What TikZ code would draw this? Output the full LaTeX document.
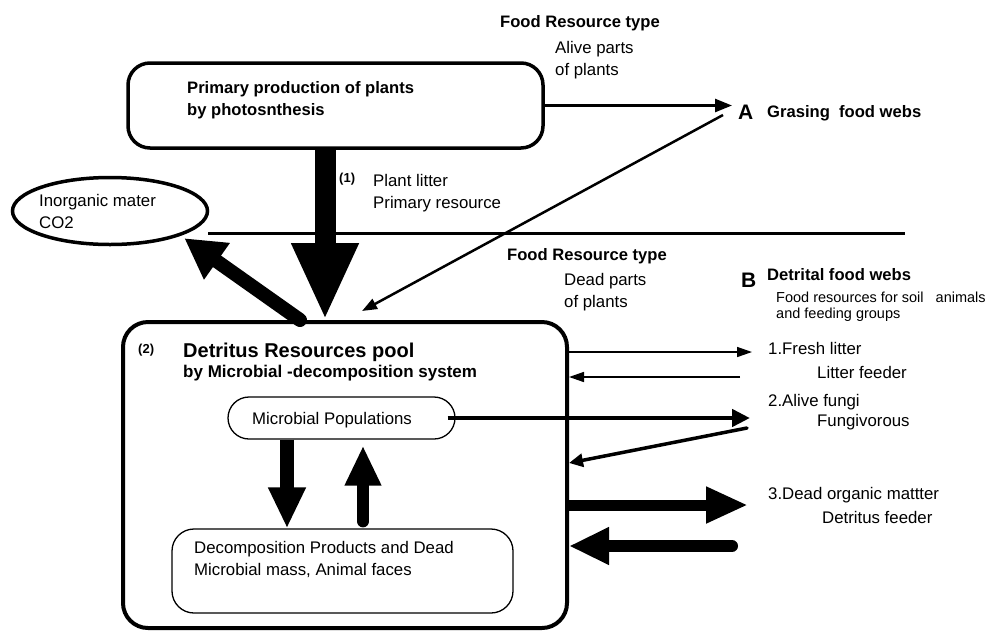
\documentclass[tikz,border=0pt]{standalone}
\usepackage{fontspec}
\setmainfont{Liberation Sans}
\usetikzlibrary{arrows.meta,calc,positioning,shapes.geometric}

\tikzset{
  lbl/.style={anchor=base west,inner sep=0pt,align=left,font=\fontsize{16.8}{22}\selectfont},
  blbl/.style={lbl,font=\fontsize{16.6}{22}\selectfont\bfseries},
  sml/.style={lbl,font=\fontsize{14.5}{16}\selectfont},
  tag/.style={lbl,font=\fontsize{13}{15}\selectfont\bfseries},
  letter/.style={lbl,font=\fontsize{21}{22}\selectfont\bfseries},
  bigbox/.style={draw,line width=3.5pt,rounded corners=22pt,inner sep=0pt},
  thinbox/.style={draw,line width=1.3pt,inner sep=0pt},
  fat/.style n args={3}{line width=#1,-{Triangle[length=#2,width=#3]}},
}

\begin{document}
\begin{tikzpicture}[x=1pt,y=-1pt]
  \useasboundingbox (0,0) rectangle (987,630);

  % plants and the grazing side (multi-line labels sit on their last line)
  \node[bigbox,minimum width=415pt,minimum height=85pt] (prim) at (335.5,105.5) {};
  \node[blbl] (primtxt) at (187,115) {Primary production of plants\\by photosnthesis};
  \node[blbl] (frtop) at (500,27) {Food Resource type};
  \node[lbl] (alive) at (555,75) {Alive parts\\of plants};
  \node[letter] (lA) at (738,119) {A};
  \node[blbl] (graz) at (767,117) {Grasing\ \ food webs};
  \node[tag] (one) at (339,182) {(1)};
  \node[lbl] (litter) at (373,208) {Plant litter\\Primary resource};
  \node[draw,ellipse,line width=3.5pt,minimum width=195pt,minimum height=67pt,inner sep=0pt] (inorg) at (110,211) {};
  \node[lbl] (co2) at (39,228) {Inorganic mater\\CO2};

  \coordinate (lineL) at (208,233);
  \coordinate (lineR) at (905,233);
  \draw[line width=3pt] (lineL) -- (lineR);

  % detrital side
  \node[blbl] (frbot) at (507,260) {Food Resource type};
  \node[lbl] (dead) at (564,307) {Dead parts\\of plants};
  \node[letter] (lB) at (741,287) {B};
  \node[blbl] (detr) at (767,280) {Detrital food webs};
  \node[sml] (soil) at (776,318) {Food resources for soil\ \ \ animals\\and feeding groups};

  \node[bigbox,line width=4pt,rounded corners=25pt,minimum width=444pt,minimum height=306pt] (pool) at (345,475) {};
  \node[tag] (two) at (138,353) {(2)};
  \node[lbl,font=\fontsize{20}{22}\selectfont\bfseries] (pooltxt) at (183,357) {Detritus Resources pool};
  \node[lbl,font=\fontsize{17}{20}\selectfont\bfseries] (pooltxt2) at (183,377) {by Microbial -decomposition system};

  \node[thinbox,rounded corners=21pt,minimum width=227pt,minimum height=42pt] (micro) at (341.5,418) {};
  \node[lbl] (microtxt) at (252,424) {Microbial Populations};
  \node[thinbox,rounded corners=22pt,minimum width=341pt,minimum height=84pt] (decomp) at (342.5,571) {};
  \node[lbl] (decomptxt) at (194,575) {Decomposition Products and Dead\\Microbial mass, Animal faces};

  \node[lbl] (fresh) at (768,354) {1.Fresh litter};
  \node[lbl] (lfeed) at (817,378) {Litter feeder};
  \node[lbl] (fungi) at (768,406) {2.Alive fungi};
  \node[lbl] (fvor) at (817,426) {Fungivorous};
  \node[lbl] (dom) at (768,499) {3.Dead organic mattter};
  \node[lbl] (dfeed) at (822,523) {Detritus feeder};

  % arrows
  \coordinate (toA) at (732,105.5);
  \coordinate (fromA) at (723,115);
  \draw[line width=2.5pt,-{Triangle[length=17pt,width=13pt]}] (prim.east) -- (toA);
  \draw[line width=2.5pt,-{Triangle[length=15pt,width=11pt]}] (fromA) -- ([xshift=17pt,yshift=9pt]pool.north);
  \draw[fat={21pt}{77pt}{62pt}] ([xshift=-10.5pt]prim.south) -- ([xshift=-20pt]pool.north);
  \draw[fat={14pt}{40pt}{42pt},line cap=round] ([xshift=-45pt]pool.north) -- ([xshift=5pt,yshift=-2pt]inorg.-20);

  \coordinate (fgo) at (750,417);
  \draw[fat={4.5pt}{18pt}{17pt}] ([xshift=-8pt]micro.east) -- (micro.east -| fgo);
  \draw[fat={14pt}{41pt}{35pt}] ([xshift=-54.5pt]micro.south) -- ([xshift=-55.5pt]decomp.north);
  \draw[fat={12pt}{40pt}{34pt},line cap=round] ([xshift=20.5pt,yshift=7pt]decomp.north) -- ([xshift=21.5pt,yshift=-6pt]micro.south);

  \coordinate (frR) at (752,352);
  \coordinate (lfR) at (740,377);
  \coordinate (fvR) at (747,428);
  \coordinate (domR) at (748,505);
  \coordinate (dfR) at (732,546);
  \draw[line width=1.5pt,-{Triangle[length=15pt,width=10pt]}] (pool.east |- frR) -- (frR);
  \draw[line width=1.5pt,-{Triangle[length=15pt,width=10pt]}] (lfR) -- (pool.east |- lfR);
  \draw[line width=3.5pt,line cap=round,-{Triangle[length=14pt,width=13pt]}] (fvR) -- ([yshift=12pt]pool.east);
  \draw[fat={11pt}{42pt}{34pt}] (pool.east |- domR) -- (domR);
  \draw[fat={12pt}{40pt}{35pt},line cap=round] (dfR) -- (pool.east |- dfR);
\end{tikzpicture}
\end{document}
